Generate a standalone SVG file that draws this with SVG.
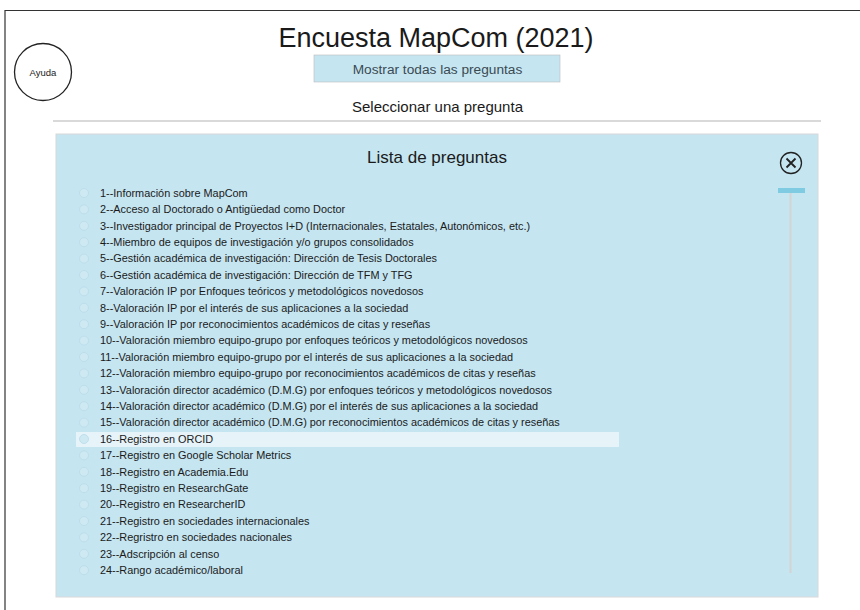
<svg xmlns="http://www.w3.org/2000/svg" width="860" height="610" viewBox="0 0 860 610">
<style>
text{font-family:"Liberation Sans",Arial,sans-serif;fill:#1a1a1a}
.item{font-size:10.9px;fill:#1a1a1a}
.radio{fill:#cfe9f3;stroke:#b8dbe8;stroke-width:0.8}
</style>
<rect width="860" height="610" fill="#fff"/>
<path d="M5 610 V10.5 H860" fill="none" stroke="#333" stroke-width="1.2"/>
<g id="title"><text x="436" y="47" font-size="27" text-anchor="middle">Encuesta MapCom (2021)</text></g>
<g id="ayuda"><circle cx="43" cy="72" r="28.5" fill="#fff" stroke="#222" stroke-width="1.3"/><text x="43" y="75.5" font-size="9.5" text-anchor="middle">Ayuda</text></g>
<g id="mostrar"><rect x="314" y="55" width="246" height="27" fill="#c5e5f1" stroke="#bbb" stroke-width="0.6"/><text x="437.5" y="74" font-size="13.7" text-anchor="middle" style="fill:#3a4a52">Mostrar todas las preguntas</text></g>
<g id="seleccionar"><text x="437.5" y="112" font-size="15" text-anchor="middle">Seleccionar una pregunta</text><line x1="53" y1="121" x2="821" y2="121" stroke="#ccc" stroke-width="1.5"/></g>
<g id="panel">
<rect x="56" y="134" width="762" height="463" fill="#c5e5f1" stroke="#d8d8d8" stroke-width="1"/>
<text x="437" y="163" font-size="17" text-anchor="middle">Lista de preguntas</text>
<g id="close"><circle cx="791" cy="163" r="10.5" fill="none" stroke="#222" stroke-width="1.3"/><path d="M786.5 158.5 L795.5 167.5 M795.5 158.5 L786.5 167.5" stroke="#222" stroke-width="1.8"/></g>
<rect x="778" y="188" width="27" height="5" fill="#7ecbe2"/>
<line x1="790.5" y1="193" x2="790.5" y2="573" stroke="#d4d4d4" stroke-width="2"/>
<rect x="76" y="432" width="543" height="15" fill="#e6f4fa"/>
</g>
<g id="items">
<circle class="radio" cx="84" cy="193" r="4.5"/><text class="item" x="100" y="196.8">1--Información sobre MapCom</text>
<circle class="radio" cx="84" cy="209.4" r="4.5"/><text class="item" x="100" y="213.2">2--Acceso al Doctorado o Antigüedad como Doctor</text>
<circle class="radio" cx="84" cy="225.8" r="4.5"/><text class="item" x="100" y="229.6">3--Investigador principal de Proyectos I+D (Internacionales, Estatales, Autonómicos, etc.)</text>
<circle class="radio" cx="84" cy="242.2" r="4.5"/><text class="item" x="100" y="246">4--Miembro de equipos de investigación y/o grupos consolidados</text>
<circle class="radio" cx="84" cy="258.6" r="4.5"/><text class="item" x="100" y="262.4">5--Gestión académica de investigación: Dirección de Tesis Doctorales</text>
<circle class="radio" cx="84" cy="275" r="4.5"/><text class="item" x="100" y="278.8">6--Gestión académica de investigación: Dirección de TFM y TFG</text>
<circle class="radio" cx="84" cy="291.4" r="4.5"/><text class="item" x="100" y="295.2">7--Valoración IP por Enfoques teóricos y metodológicos novedosos</text>
<circle class="radio" cx="84" cy="307.8" r="4.5"/><text class="item" x="100" y="311.6">8--Valoración IP por el interés de sus aplicaciones a la sociedad</text>
<circle class="radio" cx="84" cy="324.2" r="4.5"/><text class="item" x="100" y="328">9--Valoración IP por reconocimientos académicos de citas y reseñas</text>
<circle class="radio" cx="84" cy="340.6" r="4.5"/><text class="item" x="100" y="344.4">10--Valoración miembro equipo-grupo por enfoques teóricos y metodológicos novedosos</text>
<circle class="radio" cx="84" cy="357" r="4.5"/><text class="item" x="100" y="360.8">11--Valoración miembro equipo-grupo por el interés de sus aplicaciones a la sociedad</text>
<circle class="radio" cx="84" cy="373.4" r="4.5"/><text class="item" x="100" y="377.2">12--Valoración miembro equipo-grupo por reconocimientos académicos de citas y reseñas</text>
<circle class="radio" cx="84" cy="389.8" r="4.5"/><text class="item" x="100" y="393.6">13--Valoración director académico (D.M.G) por enfoques teóricos y metodológicos novedosos</text>
<circle class="radio" cx="84" cy="406.2" r="4.5"/><text class="item" x="100" y="410">14--Valoración director académico (D.M.G) por el interés de sus aplicaciones a la sociedad</text>
<circle class="radio" cx="84" cy="422.6" r="4.5"/><text class="item" x="100" y="426.4">15--Valoración director académico (D.M.G) por reconocimientos académicos de citas y reseñas</text>
<circle class="radio" cx="84" cy="439" r="4.5"/><text class="item" x="100" y="442.8">16--Registro en ORCID</text>
<circle class="radio" cx="84" cy="455.4" r="4.5"/><text class="item" x="100" y="459.2">17--Registro en Google Scholar Metrics</text>
<circle class="radio" cx="84" cy="471.8" r="4.5"/><text class="item" x="100" y="475.6">18--Registro en Academia.Edu</text>
<circle class="radio" cx="84" cy="488.2" r="4.5"/><text class="item" x="100" y="492">19--Registro en ResearchGate</text>
<circle class="radio" cx="84" cy="504.6" r="4.5"/><text class="item" x="100" y="508.4">20--Registro en ResearcherID</text>
<circle class="radio" cx="84" cy="521" r="4.5"/><text class="item" x="100" y="524.8">21--Registro en sociedades internacionales</text>
<circle class="radio" cx="84" cy="537.4" r="4.5"/><text class="item" x="100" y="541.2">22--Regristro en sociedades nacionales</text>
<circle class="radio" cx="84" cy="553.8" r="4.5"/><text class="item" x="100" y="557.6">23--Adscripción al censo</text>
<circle class="radio" cx="84" cy="570.2" r="4.5"/><text class="item" x="100" y="574">24--Rango académico/laboral</text>
</g>
<g id="connectors"></g>
</svg>
